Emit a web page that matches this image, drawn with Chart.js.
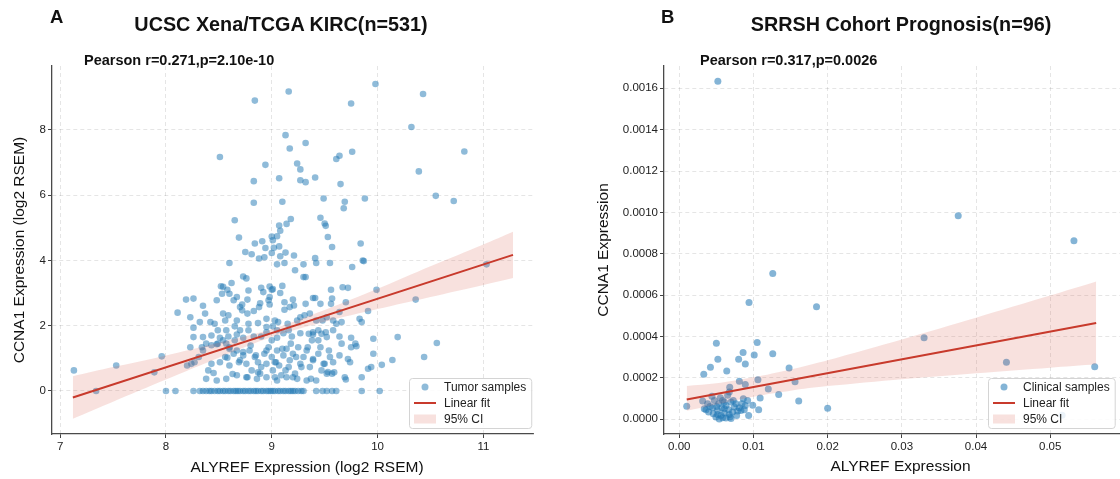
<!DOCTYPE html>
<html>
<head>
<meta charset="utf-8">
<script src="https://cdn.jsdelivr.net/npm/chart.js@4.4.1/dist/chart.umd.min.js"></script>
<style>
  html, body { margin: 0; padding: 0; background: #fff; }
  #wrap { position: relative; width: 1120px; height: 479px; overflow: hidden;
          font-family: 'Liberation Sans', Arial, Helvetica, sans-serif; color: #111; }
  #wrap canvas { position: absolute; top: 0; height: 479px; }
  .txt { position: absolute; line-height: 1; white-space: nowrap; font-weight: bold; }
  .axt { position: absolute; line-height: 1; white-space: nowrap; font-size: 15.5px; }
</style>
</head>
<body>
<div id="wrap">
  <canvas id="chartA" width="560" height="479" style="left:0;width:560px"></canvas>
  <!-- panel B is cropped on the right in the original figure -->
  <canvas id="chartB" width="581" height="479" style="left:560px;width:581px"></canvas>

  <div class="txt" style="left:50px;top:8px;font-size:18.5px">A</div>
  <div class="txt" style="left:281px;top:15px;font-size:19.8px;transform:translateX(-50%)">UCSC Xena/TCGA KIRC(n=531)</div>
  <div class="txt" style="left:84px;top:53px;font-size:14.5px">Pearson r=0.271,p=2.10e-10</div>
  <div class="axt" style="left:307px;top:459px;transform:translateX(-50%)">ALYREF Expression (log2 RSEM)</div>

  <div class="txt" style="left:661px;top:8px;font-size:18.5px">B</div>
  <div class="txt" style="left:901px;top:15px;font-size:19.8px;transform:translateX(-50%)">SRRSH Cohort Prognosis(n=96)</div>
  <div class="txt" style="left:700px;top:53px;font-size:14.5px">Pearson r=0.317,p=0.0026</div>
</div>

<script>
// ---- data ----
// panel A: TCGA KIRC tumour samples, [ALYREF, CCNA1] in log2 RSEM
const tcgaSamples = [
  [9.98,9.41],[9.16,9.18],[8.84,8.90],[10.43,9.10],[9.75,8.81],[10.32,8.09],[9.13,7.84],[9.32,7.60],
  [9.17,7.43],[8.51,7.17],[9.64,7.21],[9.61,7.11],[9.76,7.33],[10.82,7.34],[8.94,6.93],[9.24,6.97],
  [9.27,6.79],[8.83,6.43],[9.07,6.52],[9.27,6.46],[9.32,6.40],[9.41,6.54],[9.65,6.34],[10.39,6.73],
  [8.83,5.77],[9.10,5.80],[9.49,5.90],[9.69,5.80],[9.68,5.60],[9.88,5.90],[10.55,5.98],[10.72,5.82],
  [8.65,5.23],[9.46,5.31],[9.18,5.27],[9.14,5.12],[9.07,5.07],[9.50,5.13],[9.51,5.06],[9.08,4.91],
  [8.69,4.70],[9.53,4.72],[9.84,4.52],[8.84,4.52],[8.91,4.59],[9.00,4.73],[9.05,4.74],[9.01,4.62],
  [9.02,4.39],[9.07,4.43],[8.94,4.38],[9.57,4.41],[8.75,4.26],[8.81,4.19],[9.00,4.23],[9.13,4.24],
  [9.21,4.15],[9.08,4.13],[8.93,4.10],[8.88,4.06],[9.41,4.07],[9.86,4.00],
  [9.30,3.88],[9.42,3.92],[9.55,3.92],[9.76,3.80],[9.87,3.98],[8.60,3.92],[9.05,3.88],[9.12,3.92],
  [9.22,3.70],[9.30,3.49],[9.32,3.49],[8.52,3.21],[8.54,3.19],[8.62,3.31],[8.73,3.51],[8.76,3.45],
  [8.58,3.10],[8.78,3.08],[8.90,3.16],[8.92,3.03],[8.98,3.20],[9.00,3.10],[9.01,3.12],[9.10,3.22],
  [9.08,3.00],[8.98,2.88],[8.97,2.78],[8.98,2.65],[8.89,2.69],[8.88,2.57],[8.83,2.45],[8.72,2.65],
  [8.70,2.57],[8.72,2.47],[8.77,2.37],[8.77,2.80],[8.67,2.88],[8.64,2.78],[8.60,2.98],[8.53,2.98],
  [8.48,2.78],[9.12,2.72],[9.12,2.49],[9.17,2.57],[9.20,2.80],[9.21,2.62],[9.32,2.67],[9.39,2.85],
  [9.41,2.85],[9.46,2.67],[9.56,3.10],[9.57,2.83],[9.56,2.67],[9.67,3.18],[9.72,3.16],[9.70,2.72],
  [9.64,2.42],[9.99,3.10],[9.91,2.45],[9.83,2.21],[9.85,2.11],[8.19,2.80],[8.26,2.83],[8.35,2.61],
  [8.37,2.37],[8.11,2.40],[8.23,2.26],[8.32,2.11],[8.42,2.11],[8.46,2.06],[8.26,1.94],[8.54,2.37],
  [8.56,2.16],[8.59,2.32],[8.67,2.16],[8.65,1.98],[8.70,1.86],[8.78,2.06],[8.78,1.86],[8.87,2.08],
  [8.95,2.21],[9.03,2.16],[9.06,2.11],[9.01,1.98],[8.95,1.96],[9.05,1.86],[9.15,2.06],[9.16,1.86],
  [9.24,2.16],[9.27,2.26],[9.31,2.32],[9.36,2.37],[9.42,2.16],[9.48,2.16],[9.52,2.26],[9.58,2.16],
  [9.61,2.06],[9.66,2.11],[9.44,1.86],[9.51,1.80],[9.58,1.86],[9.39,1.80],[8.49,1.86],[8.57,1.86],
  [7.13,0.63],[7.53,0.78],[7.89,0.57],[10.19,1.65],[10.56,1.47],[10.44,1.04],[10.14,0.95],[10.04,0.80],
  [9.96,1.14],[10.36,2.80],[11.03,3.88],[9.70,0.35],[9.72,0.98],[9.75,1.34],[9.79,1.45],
  [8.26,1.65],[8.35,1.65],[8.43,1.70],[8.51,1.63],[8.59,1.67],[8.67,1.73],[8.73,1.63],[8.83,1.67],
  [8.90,1.67],[8.95,1.80],[9.05,1.63],[9.11,1.77],[9.19,1.67],[9.27,1.77],[9.35,1.75],[9.39,1.73],
  [9.47,1.75],[9.52,1.65],[9.64,1.67],[9.75,1.63],[9.96,1.60],[8.38,1.45],[8.48,1.43],[8.57,1.45],
  [8.34,1.34],[8.23,1.34],[7.96,1.06],[8.20,0.78],[8.24,0.83],[8.27,0.88],[8.40,0.63],[8.45,0.55],
  [8.43,0.83],[8.51,0.88],[8.58,1.02],[8.60,0.78],[8.64,1.14],[8.67,1.24],[8.70,0.94],[8.73,1.09],
  [8.76,0.83],[8.79,1.24],[8.81,0.63],[8.84,1.04],[8.87,0.88],[8.89,0.53],[8.93,1.14],[8.95,0.83],
  [8.97,1.34],[9.00,1.04],[9.01,0.63],[9.03,0.88],[9.05,1.24],[9.07,0.78],[9.09,0.48],[9.11,1.09],
  [9.14,1.29],[9.16,0.73],[9.17,0.94],[9.20,1.14],[9.22,0.53],[9.25,1.34],[9.27,0.83],[9.30,1.04],
  [9.33,1.24],[9.36,0.73],[9.38,1.55],[9.39,0.94],[9.44,1.14],[9.46,1.34],[9.47,0.63],[9.50,0.83],
  [9.52,0.53],[9.55,1.04],[9.58,0.88],[9.64,1.09],[9.66,1.45],[9.69,0.42],[9.74,0.88],[9.80,1.37],
  [9.85,0.42],[9.91,0.68],[9.94,0.73],[8.38,0.37],[8.48,0.32],[8.57,0.37],[8.67,0.48],[8.76,0.42],
  [8.86,0.37],[8.95,0.42],[9.05,0.32],[9.14,0.42],[9.24,0.37],[9.33,0.32],[9.42,0.32],[9.53,0.58],
  [9.57,0.53],[8.31,1.04],[8.35,1.24],[8.43,1.40],[8.49,1.45],[8.54,1.55],[8.60,1.29],
  [8.56,1.04],[8.60,1.34],[8.65,1.55],[8.69,0.88],[8.73,1.19],[8.80,1.39],[8.85,1.09],[8.90,0.73],
  [8.95,1.24],[9.00,1.55],[9.04,0.88],[9.10,1.29],[9.13,0.63],[9.18,1.45],[9.23,1.04],[9.28,0.73],
  [9.34,1.34],[9.39,0.98],[9.44,1.55],[9.49,0.83],[9.54,1.24],[9.59,0.57],[8.63,0.52],[8.77,0.42],
  [8.87,0.57],[9.03,0.42],[9.20,0.42],[9.37,0.37],
  [7.34,0],[8.00,0],[8.09,0],[8.26,0],[8.32,0],[8.35,0],[8.38,0],[8.41,0],[8.43,0],[8.46,0],
  [8.49,0],[8.51,0],[8.54,0],[8.56,0],[8.59,0],[8.61,0],[8.64,0],[8.66,0],[8.68,0],[8.70,0],
  [8.73,0],[8.75,0],[8.78,0],[8.80,0],[8.83,0],[8.85,0],[8.87,0],[8.90,0],[8.92,0],[8.95,0],
  [8.97,0],[8.99,0],[9.01,0],[9.03,0],[9.06,0],[9.08,0],[9.11,0],[9.13,0],[9.16,0],[9.18,0],
  [9.20,0],[9.22,0],[9.25,0],[9.28,0],[9.30,0],[9.42,0],[9.48,0],[9.52,0],[9.57,0],[9.61,0],
  [9.85,0],[10.02,0]
];
const tcgaFit = [[7.12, -0.20], [11.28, 4.17]];
const tcgaCiX    = [7.12, 7.5, 8.0, 8.5, 9.0, 9.5, 10.0, 10.5, 11.0, 11.28];
const tcgaCiLow  = [-0.85, -0.33, 0.35, 1.02, 1.65, 2.12, 2.51, 2.88, 3.25, 3.46];
const tcgaCiHigh = [0.45, 0.73, 1.09, 1.48, 1.89, 2.48, 3.13, 3.82, 4.49, 4.88];
const tcgaXTicks = [7, 8, 9, 10, 11];
const tcgaYTicks = [0, 2, 4, 6, 8];

// panel B: SRRSH clinical samples, [ALYREF, CCNA1]
const srrshSamples = [
  [0.0010,0.0000615],[0.0050,0.000367],[0.0052,0.000289],[0.0042,0.000251],[0.0033,0.000217],
  [0.0064,0.000232],[0.0086,0.000322],[0.0080,0.000290],[0.0089,0.000267],[0.0101,0.000310],
  [0.0105,0.000370],[0.0094,0.000564],[0.0126,0.000704],[0.0126,0.000316],[0.0148,0.000247],
  [0.0185,0.000543],[0.0156,0.000180],[0.0161,0.000087],[0.0134,0.000119],[0.0120,0.000146],
  [0.0109,0.000102],[0.0106,0.000190],[0.0089,0.000167],[0.0081,0.000183],[0.0068,0.000154],
  [0.0099,0.000067],[0.0107,0.000045],[0.0200,0.000052],[0.0330,0.000393],[0.0376,0.000984],
  [0.0052,0.001634],[0.0532,0.000863],[0.0441,0.000275],[0.0560,0.000253],[0.0516,0.000018],
  [0.00315,0.0000871],[0.00337,0.0000500],[0.00382,0.0000742],[0.00396,0.0000339],[0.00440,0.000110],
  [0.00449,0.0000548],[0.00458,0.0000258],[0.00494,0.0000097],[0.00517,0.0000419],[0.00530,0.0000742],
  [0.00562,0.0000177],[0.00575,0.0000548],[0.00584,0.0000903],[0.00607,0.0000290],[0.00629,0.0000661],
  [0.00652,0.000115],[0.00665,0.0000452],[0.00683,0.0000097],[0.00697,0.0000823],[0.00719,0.0000339],
  [0.00742,0.0000581],[0.00764,0.0000742],[0.00787,0.0000387],[0.00831,0.0000419],[0.00845,0.0000742],
  [0.00863,0.0000984],[0.00876,0.0000452],[0.00890,0.0000661],[0.00935,0.0000177],[0.00674,0.000131],
  [0.00584,0.0000065],[0.00472,0.0000903],[0.00360,0.0000452],[0.00539,0.0000000],[0.00629,0.0000048],
  [0.00697,0.0000032],[0.00607,0.0000823],[0.00503,0.0000613],[0.00553,0.000103],[0.00728,0.0000903],
  [0.00809,0.0000548],[0.00413,0.0000613],[0.00607,0.0000500],[0.00674,0.0000226],[0.00517,0.0000226],
  [0.00773,0.0000177],[0.00921,0.0000903]
];
const srrshFit = [[0.0010, 0.000095], [0.0562, 0.000465]];
const srrshCiX    = [0.0010, 0.005, 0.010, 0.015, 0.020, 0.030, 0.040, 0.050, 0.0562];
const srrshCiLow  = [0.000040, 0.0000707, 0.0001086, 0.0001376, 0.0001594, 0.0001929, 0.0002217, 0.0002486, 0.000265];
const srrshCiHigh = [0.000160, 0.0001729, 0.0002018, 0.0002398, 0.0002848, 0.0003851, 0.0004903, 0.0005972, 0.000665];
const srrshXTicks = [0, 0.01, 0.02, 0.03, 0.04, 0.05];
const srrshYTicks = [0, 0.0002, 0.0004, 0.0006, 0.0008, 0.0010, 0.0012, 0.0014, 0.0016];

// ---- styling ----
const FONT = "'Liberation Sans', Arial, Helvetica, sans-serif";
const BLUE = 'rgba(31,119,180,0.5)';
const RED = '#c83a2c';
const PINK = 'rgba(214,86,72,0.18)';

const toXY = pts => pts.map(p => ({x: p[0], y: p[1]}));
const band = (xs, ys) => xs.map((x, i) => ({x: x, y: ys[i]}));

// legend box drawn inside the lower right corner of the plot area
const cornerLegend = {
  id: 'cornerLegend',
  afterDatasetsDraw(chart, args, opts) {
    const {ctx, chartArea} = chart;
    ctx.save();
    ctx.font = '12px ' + FONT;
    const textW = Math.max(...opts.items.map(it => ctx.measureText(it.label).width));
    const w = 35 + textW + 5, h = 50;
    const x = Math.round(chartArea.right - opts.inset - w), y = Math.round(chartArea.bottom - 6 - h);
    ctx.beginPath();
    ctx.roundRect(x + 0.5, y + 0.5, w, h, 3);
    ctx.fillStyle = 'rgba(255,255,255,0.85)';
    ctx.fill();
    ctx.strokeStyle = '#d4d4d4';
    ctx.lineWidth = 1;
    ctx.stroke();
    opts.items.forEach((it, i) => {
      const cy = y + 9 + i * 16;
      if (it.kind === 'dot') {
        ctx.beginPath();
        ctx.arc(x + 16, cy, 3.5, 0, Math.PI * 2);
        ctx.fillStyle = opts.dotColor;
        ctx.fill();
      } else if (it.kind === 'line') {
        ctx.beginPath();
        ctx.moveTo(x + 5, cy);
        ctx.lineTo(x + 27, cy);
        ctx.strokeStyle = RED;
        ctx.lineWidth = 2;
        ctx.stroke();
      } else {
        ctx.fillStyle = PINK;
        ctx.fillRect(x + 5, cy - 4.5, 22, 9);
      }
      ctx.fillStyle = '#222';
      ctx.textBaseline = 'middle';
      ctx.fillText(it.label, x + 35, cy + 0.5);
    });
    ctx.restore();
  }
};

function axis(opt) {
  return {
    type: 'linear',
    min: opt.min,
    max: opt.max,
    afterBuildTicks: s => { s.ticks = opt.ticks.map(v => ({value: v})); },
    afterFit: s => { if (opt.width) s.width = opt.width; if (opt.height) s.height = opt.height; },
    ticks: {
      color: '#222',
      font: {family: FONT, size: 11.5},
      padding: 2,
      callback: v => opt.digits === null ? String(v) : Number(v).toFixed(opt.digits)
    },
    grid: {
      color: 'rgba(0,0,0,0.13)',
      lineWidth: 0.8,
      tickLength: 4,
      tickColor: '#444',
      tickWidth: 1
    },
    border: {display: true, color: '#4a4a4a', width: 1.3, dash: [4, 3]},
    title: {
      display: !!opt.title,
      text: opt.title || '',
      color: '#111',
      font: {family: FONT, size: 15.5},
      padding: opt.titlePad
    }
  };
}

function makeChart(id, cfg) {
  return new Chart(document.getElementById(id), {
    type: 'scatter',
    data: {
      datasets: [
        {label: cfg.pointLabel, data: toXY(cfg.samples), backgroundColor: cfg.dotColor,
         borderWidth: 0, pointRadius: cfg.radius, order: 3},
        {type: 'line', label: 'ci-low', data: band(cfg.ciX, cfg.ciLow), borderWidth: 0,
         pointRadius: 0, tension: 0.3, fill: false, order: 2},
        {type: 'line', label: '95% CI', data: band(cfg.ciX, cfg.ciHigh), borderWidth: 0,
         pointRadius: 0, tension: 0.3, fill: '-1', backgroundColor: PINK, order: 2},
        {type: 'line', label: 'Linear fit', data: toXY(cfg.fit), borderColor: RED, borderWidth: 2,
         pointRadius: 0, fill: false, order: 1}
      ]
    },
    options: {
      responsive: false,
      animation: false,
      devicePixelRatio: 1,
      events: [],
      layout: {padding: {top: 66, right: cfg.padRight, bottom: 0, left: 0}},
      plugins: {
        legend: {display: false},
        tooltip: {enabled: false},
        cornerLegend: {
          dotColor: cfg.dotColor,
          inset: cfg.legendInset,
          items: [
            {label: cfg.pointLabel, kind: 'dot'},
            {label: 'Linear fit', kind: 'line'},
            {label: '95% CI', kind: 'patch'}
          ]
        }
      },
      scales: {x: axis(cfg.x), y: axis(cfg.y)}
    },
    plugins: [cornerLegend]
  });
}

// x title of panel A is the html label above (it sits off-centre in the original)
makeChart('chartA', {
  samples: tcgaSamples, fit: tcgaFit, ciX: tcgaCiX, ciLow: tcgaCiLow, ciHigh: tcgaCiHigh,
  pointLabel: 'Tumor samples', dotColor: BLUE, radius: 3.3, padRight: 27, legendInset: 2,
  x: {min: 6.923, max: 11.469, ticks: tcgaXTicks, digits: null, height: 45},
  y: {min: -1.32, max: 9.96, ticks: tcgaYTicks, digits: null, width: 52,
      title: 'CCNA1 Expression (log2 RSEM)', titlePad: {top: 10, bottom: 0}}
});

makeChart('chartB', {
  samples: srrshSamples, fit: srrshFit, ciX: srrshCiX, ciLow: srrshCiLow, ciHigh: srrshCiHigh,
  pointLabel: 'Clinical samples', dotColor: 'rgba(31,119,180,0.55)', radius: 3.5, padRight: 0, legendInset: 22,
  x: {min: -0.00206, max: 0.0617, ticks: srrshXTicks, digits: 2, height: 45,
      title: 'ALYREF Expression', titlePad: {top: 0, bottom: 3}},
  y: {min: -0.0000722, max: 0.001708, ticks: srrshYTicks, digits: 4, width: 104,
      title: 'CCNA1 Expression', titlePad: {top: 34, bottom: 0}}
});
</script>
</body>
</html>
